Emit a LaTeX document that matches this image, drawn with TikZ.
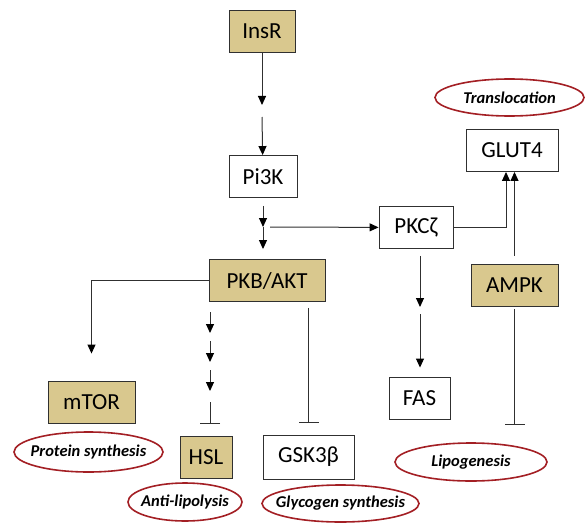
\documentclass[tikz,border=0pt]{standalone}
\usepackage{fontspec}
\setmainfont{Carlito}
\usetikzlibrary{arrows.meta, positioning, shapes.geometric}
\definecolor{khaki}{HTML}{D9C88E}
\definecolor{effectred}{HTML}{A31F24}
\definecolor{linegray}{HTML}{303030}

\begin{document}
\begin{tikzpicture}[
    x=1pt, y=-1pt,
    box/.style={draw=linegray, line width=0.9pt, minimum height=42pt, inner sep=0, font=\fontsize{23}{23}\selectfont},
    kinase/.style={box, fill=khaki},
    effect/.style={draw=effectred, ellipse, line width=1.6pt, inner sep=0, minimum height=38pt, font=\fontsize{16.5}{16.5}\selectfont\bfseries\itshape},
    link/.style={draw=linegray, line width=1pt},
    block/.style={link, -{Bar[width=20pt, line width=1pt]}},
    >={Triangle[length=9pt, width=8pt, color=black]}
]
\useasboundingbox (0,0) rectangle (585,524);

\node[kinase, minimum width=66pt] (insr) at (262,31.5) {InsR};
\node[box, minimum width=68pt] (pi3k) at (263,176.5) {Pi3K};
\node[box, minimum width=74pt] (pkc) at (416,227.5) {PKCζ};
\node[box, minimum width=92pt] (glut) at (512,150.5) {GLUT4};
\node[kinase, minimum width=116pt] (pkb) at (267,280.5) {PKB/AKT};
\node[kinase, minimum width=87pt] (ampk) at (514.5,285) {AMPK};
\node[kinase, minimum width=87pt] (mtor) at (91.5,402) {mTOR};
\node[box, minimum width=61pt] (fas) at (419.5,398) {FAS};
\node[kinase, minimum width=52pt] (hsl) at (206,457) {HSL};
\node[box, minimum width=91pt, minimum height=44pt] (gsk) at (308.5,457) {GSK3β};

\node[effect, minimum width=149pt, minimum height=37pt] (transl) at (509.5,97.5) {\makebox[0pt]{Translocation}};
\node[effect, minimum width=149pt, minimum height=40pt] (protein) at (88.5,452) {\makebox[0pt]{Protein synthesis}};
\node[effect, minimum width=114pt] (antilip) at (185,502) {\makebox[0pt]{Anti-lipolysis}};
\node[effect, minimum width=157pt, minimum height=37pt] (glycogen) at (340.5,503.5) {\makebox[0pt]{Glycogen synthesis}};
\node[effect, minimum width=152pt] (lipo) at (471,462) {\makebox[0pt]{Lipogenesis}};

\coordinate (insr-end) at (262,105);
\coordinate (pi3k-in) at (262,117);
\coordinate (split) at (263,227);
\coordinate (pkc-out) at (420,307);
\coordinate (fas-in) at (420,314);
\coordinate (ampk-bar) at (514.5,425);
\coordinate (hsl-in) at (210,402);

\draw[link, ->] (insr) -- (insr-end);
\draw[link, ->] (pi3k-in) -- (pi3k);
\draw[link, ->, shorten <=8pt] (pi3k) -- (split);
\draw[link, ->, shorten >=10pt] (split) -- (split |- pkb.north);
\draw[link, ->, shorten <=7pt] (split) -- (pkc);
\draw[link, ->] (pkc) -| ([xshift=-6pt]glut.south);
\draw[link, ->, shorten <=8pt] (ampk.north) -- (ampk.north |- glut.south);
\draw[link, ->, shorten <=7pt] (pkc-out |- pkc.south) -- (pkc-out);
\draw[link, ->, shorten >=9pt] (fas-in) -- (fas-in |- fas.north);
\draw[block, shorten <=3pt] (ampk) -- (ampk-bar);
\draw[link, ->, shorten >=27pt] (pkb.west) -| (mtor.north);
\foreach \i/\y in {1/312, 2/341, 3/370} {
  \coordinate (hop\i-top) at (210,\y);
  \coordinate (hop\i-tip) at (210,\y+21);
  \draw[link, ->] (hop\i-top) -- (hop\i-tip);
}
\draw[block, shorten >=12pt] (hsl-in) -- (hsl-in |- hsl.north);
\draw[block, shorten <=6pt, shorten >=12pt] (gsk.north |- pkb.south) -- (gsk.north);
\end{tikzpicture}
\end{document}
